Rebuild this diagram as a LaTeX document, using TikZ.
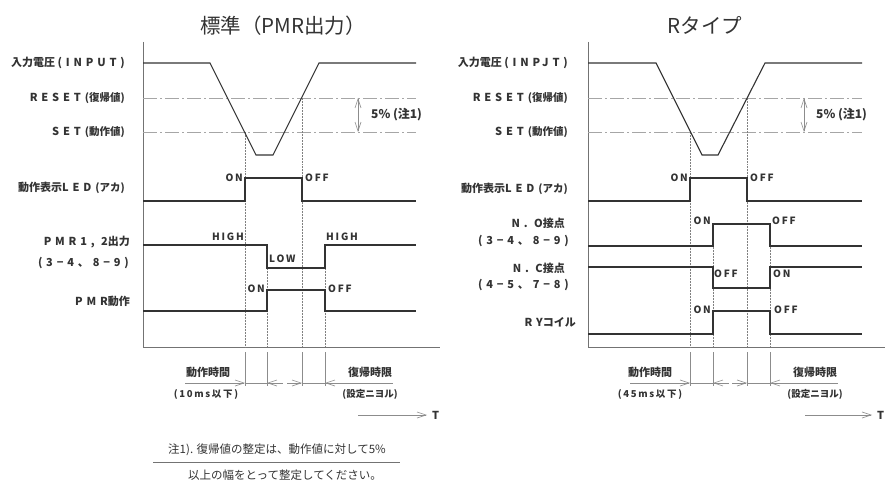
\documentclass[tikz,border=0pt]{standalone}
\usepackage{fontspec}
\setmainfont{Noto Sans CJK JP}
\newfontfamily\spc[LetterSpace=35]{Noto Sans CJK JP}
\newfontfamily\spn[LetterSpace=18]{Noto Sans CJK JP}
\usetikzlibrary{arrows.meta}
\definecolor{ink}{HTML}{333333}
\begin{document}
\begin{tikzpicture}[x=1pt,y=-1pt,
  sig/.style={draw=ink,line width=1.1pt},
  axis/.style={draw=black!55,line width=1pt},
  dashdot/.style={draw=black!35,line width=0.8pt,dash pattern=on 14pt off 3pt on 2pt off 3pt},
  guide/.style={draw=black!50,line width=0.5pt,densely dotted},
  tick/.style={draw=black!45,line width=0.5pt},
  dim/.style={draw=black!45,line width=0.6pt},
  barb/.tip={Straight Barb[length=9pt,width=6pt,line width=0.6pt]},
  lab/.style={font=\bfseries\fontsize{11}{13}\selectfont,text=ink,inner sep=0pt,anchor=east},
  st/.style={font=\bfseries\spn\fontsize{10}{11}\selectfont,text=ink,inner sep=0pt},
  ttl/.style={font=\fontsize{20.5}{24}\selectfont,text=black!80,inner sep=0pt},
  dl/.style={font=\bfseries\fontsize{11}{12}\selectfont,text=ink,inner sep=0pt},
  ds/.style={font=\bfseries\fontsize{9.5}{11}\selectfont,text=ink,inner sep=0pt},
  pc/.style={font=\bfseries\fontsize{12}{13}\selectfont,text=ink,inner sep=0pt,anchor=west},
]
\newcommand{\sm}[1]{\hspace{4pt}{\fontsize{10.5}{11}\selectfont #1}}
\useasboundingbox (0,0) rectangle (885,481);
\fill[white] (0,0) rectangle (885,481);

% ===== titles =====
\node[ttl] (t1) at (283,26) {標準（PMR出力）};
\node[ttl] (t2) at (705,25) {Rタイプ};

% ===== LEFT PANEL =====
\draw[axis] (143,42) -- (143,347) -- (440,347);
\draw[dashdot] (143,98) -- (416,98);
\draw[dashdot] (143,132) -- (416,132);
\draw[guide] (245,132) -- (245,347);
\draw[guide] (302,98) -- (302,347);
\draw[guide] (267,245) -- (267,347);
\draw[guide] (325,245) -- (325,347);
\draw[sig] (143,63) -- (210,63) -- (256,155) -- (273,155) -- (319,63) -- (416,63);
\draw[sig] (143,201) -- (245,201) -- (245,178) -- (302,178) -- (302,201) -- (416,201);
\draw[sig] (143,245) -- (267,245) -- (267,268) -- (325,268) -- (325,245) -- (416,245);
\draw[sig] (143,311) -- (267,311) -- (267,290) -- (325,290) -- (325,311) -- (416,311);

\node[lab] (l1) at (125,63) {入力電圧 {\spc(INPUT)}};
\node[lab] (l2) at (125,98) {{\spc RESET}\sm{(復帰値)}};
\node[lab] (l3) at (125,132) {{\spc SET}\sm{(動作値)}};
\node[lab] (l4) at (125,188) {動作表示{\spc LED}\sm{(アカ)}};
\node[lab] (l5) at (130,242) {{\spc PMR1, 2}出力};
\node[lab] (l5b) at (129,263) {{\spc(3−4、8−9)}};
\node[lab] (l6) at (130,301) {{\spc PMR}動作};

\node[st,anchor=east] (a1) at (243,178) {ON};
\node[st,anchor=west] (a2) at (305,178) {OFF};
\node[st,anchor=east] (a3) at (244,237) {HIGH};
\node[st,anchor=west] (a4) at (326,237) {HIGH};
\node[st,anchor=west] (a5) at (269,259) {LOW};
\node[st,anchor=east] (a6) at (265,289) {ON};
\node[st,anchor=west] (a7) at (328,289) {OFF};

\draw[dim,barb-barb] (358,98) -- (358,132);
\node[pc] (p1) at (371,115) {5\% (注1)};

\foreach \x in {245,267,302,325} \draw[tick] (\x,352) -- (\x,386);
\draw[dim,-barb] (185,383) -- (245,383);
\draw[dim] (245,383) -- (267,383);
\draw[dim,barb-] (267,383) -- (283,383);
\draw[dim,-barb] (287,383) -- (302,383);
\draw[dim] (302,383) -- (325,383);
\draw[dim,barb-] (325,383) -- (393,383);
\node[dl] (d1) at (208,372) {動作時間};
\node[ds,font=\bfseries\spn\fontsize{9.5}{11}\selectfont] (d2) at (206,394) {(10ms以下)};
\node[dl] (d3) at (370,372) {復帰時限};
\node[ds] (d4) at (370,394) {(設定ニヨル)};

\coordinate (ta) at (358,415);
\coordinate (tb) at (427,415);
\draw[dim,-barb] (ta) -- (tb);
\node[lab,anchor=west] (T1) at (432,415) {T};

% note
\node[font=\fontsize{11.5}{14}\selectfont,text=ink,inner sep=0pt] (n1) at (277,450) {注1). 復帰値の整定は、動作値に対して5\%};
\draw[black!55,line width=0.8pt] (153,462) -- (400,462);
\node[font=\fontsize{11.5}{14}\selectfont,text=ink,inner sep=0pt] (n2) at (285,475) {以上の幅をとって整定してください。};

% ===== RIGHT PANEL =====
\draw[axis] (588,42) -- (588,347) -- (885,347);
\draw[dashdot] (588,98) -- (862,98);
\draw[dashdot] (588,132) -- (862,132);
\draw[guide] (690,132) -- (690,347);
\draw[guide] (747,98) -- (747,347);
\draw[guide] (713,224) -- (713,347);
\draw[guide] (770,224) -- (770,347);
\draw[sig] (588,63) -- (656,63) -- (702,155) -- (718,155) -- (765,63) -- (862,63);
\draw[sig] (588,201) -- (690,201) -- (690,178) -- (747,178) -- (747,201) -- (862,201);
\draw[sig] (588,246) -- (713,246) -- (713,224) -- (770,224) -- (770,246) -- (862,246);
\draw[sig] (588,267) -- (713,267) -- (713,288) -- (770,288) -- (770,267) -- (862,267);
\draw[sig] (588,334) -- (713,334) -- (713,311) -- (770,311) -- (770,334) -- (862,334);

\node[lab] (r1) at (568,63) {入力電圧 {\spc(INPJT)}};
\node[lab] (r2) at (568,98) {{\spc RESET}\sm{(復帰値)}};
\node[lab] (r3) at (568,132) {{\spc SET}\sm{(動作値)}};
\node[lab] (r4) at (568,189) {動作表示{\spc LED}\sm{(アカ)}};
\node[lab] (r5) at (565,223) {{\spc N. O}接点};
\node[lab] (r5b) at (569,241) {{\spc(3−4、8−9)}};
\node[lab] (r6) at (565,268) {{\spc N. C}接点};
\node[lab] (r6b) at (569,285) {{\spc(4−5、7−8)}};
\node[lab] (r7) at (576,322) {{\spc RY}コイル};

\node[st,anchor=east] (b1) at (688,178) {ON};
\node[st,anchor=west] (b2) at (750,178) {OFF};
\node[st,anchor=east] (b3) at (711,221) {ON};
\node[st,anchor=west] (b4) at (772,221) {OFF};
\node[st,anchor=west] (b5) at (714,274) {OFF};
\node[st,anchor=west] (b6) at (773,274) {ON};
\node[st,anchor=east] (b7) at (711,310) {ON};
\node[st,anchor=west] (b8) at (774,310) {OFF};

\draw[dim,barb-barb] (804,98) -- (804,132);
\node[pc] (p2) at (816,115) {5\% (注1)};

\foreach \x in {690,713,747,770} \draw[tick] (\x,352) -- (\x,386);
\draw[dim,-barb] (630,383) -- (690,383);
\draw[dim] (690,383) -- (713,383);
\draw[dim,barb-] (713,383) -- (729,383);
\draw[dim,-barb] (732,383) -- (747,383);
\draw[dim] (747,383) -- (770,383);
\draw[dim,barb-] (770,383) -- (838,383);
\node[dl] (e1) at (650,372) {動作時間};
\node[ds,font=\bfseries\spn\fontsize{9.5}{11}\selectfont] (e2) at (650,394) {(45ms以下)};
\node[dl] (e3) at (815,372) {復帰時限};
\node[ds] (e4) at (815,394) {(設定ニヨル)};

\coordinate (ua) at (805,415);
\coordinate (ub) at (872,415);
\draw[dim,-barb] (ua) -- (ub);
\node[lab,anchor=west] (T2) at (877,415) {T};
\end{tikzpicture}
\end{document}
